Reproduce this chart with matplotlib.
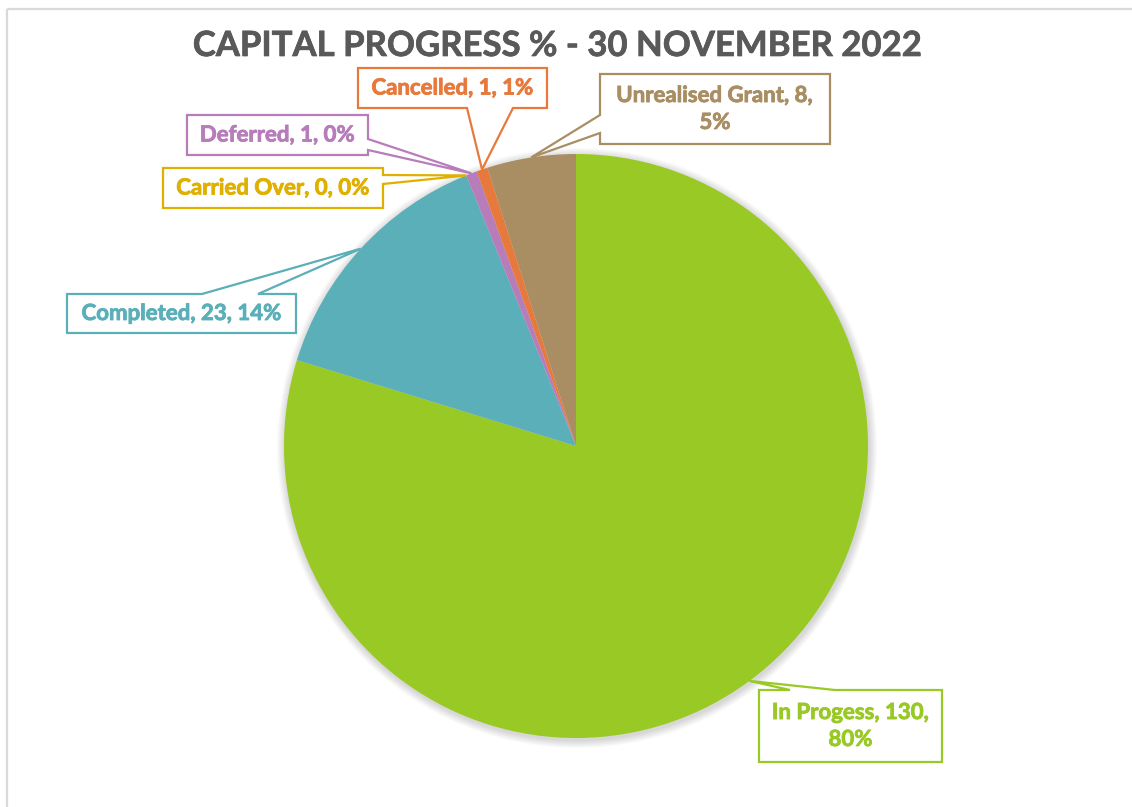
import matplotlib
matplotlib.use("Agg")
import matplotlib.pyplot as plt
import matplotlib.patheffects as pe
from matplotlib.patches import Polygon, Circle
import numpy as np

# ---- data ----
categories = ["In Progess", "Completed", "Carried Over", "Deferred", "Cancelled", "Unrealised Grant"]
values = [130, 23, 0, 1, 1, 8]
pct_labels = ["80%", "14%", "0%", "0%", "1%", "5%"]
colors = ["#99C925", "#5AAFB9", "#E0B000", "#B77DBA", "#E8793D", "#A98E64"]
title = "CAPITAL PROGRESS % - 30 NOVEMBER 2022"

# ---- layout (pixel coords, y down): box (l, t, r, b), pointer side, base (a, b), wrap ----
layout = {
    "In Progess":       dict(box=(759, 690, 942, 762), side="top",    base=(790, 835), wrap=True),
    "Completed":        dict(box=(67, 294, 296, 333),  side="top",    base=(202, 258), wrap=False),
    "Carried Over":     dict(box=(163, 168, 383, 208), side="right",  base=(175, 184), wrap=False),
    "Deferred":         dict(box=(187, 115, 368, 155), side="right",  base=(139, 150), wrap=False),
    "Cancelled":        dict(box=(358, 68, 547, 108),  side="bottom", base=(467, 513), wrap=False),
    "Unrealised Grant": dict(box=(600, 74, 830, 144),  side="left",   base=(115, 133), wrap=True),
}

W, H = 1132, 807
fig = plt.figure(figsize=(W / 100, H / 100), dpi=100)
ax = fig.add_axes([0, 0, 1, 1])

cx, cy, r = 576, H - 446, 292

# soft shadow
for k in range(1, 9):
    ax.add_patch(Circle((cx + 1, cy - 2), r + k, facecolor="#000000", alpha=0.018, lw=0, zorder=0))

wedges, _ = ax.pie(values, colors=colors, startangle=90, counterclock=False,
                   center=(cx, cy), radius=r, wedgeprops=dict(linewidth=0), frame=True)
for w in wedges:
    w.set_zorder(1)

ax.set_xlim(0, W)
ax.set_ylim(0, H)
ax.set_aspect("equal")
ax.axis("off")

font = ["Lato", "DejaVu Sans"]

def to_data(p):
    return (p[0], H - p[1])

for cat, val, pct, col, w in zip(categories, values, pct_labels, colors, wedges):
    lay = layout[cat]
    th = np.deg2rad((w.theta1 + w.theta2) / 2)
    tip_d = (cx + r * np.cos(th), cy + r * np.sin(th))
    tip = (tip_d[0], H - tip_d[1])
    l, t, rr, b = lay["box"]
    a1, a2 = lay["base"]
    side = lay["side"]
    if side == "top":
        pts = [(l, t), (a1, t), tip, (a2, t), (rr, t), (rr, b), (l, b)]
    elif side == "right":
        pts = [(l, t), (rr, t), (rr, a1), tip, (rr, a2), (rr, b), (l, b)]
    elif side == "bottom":
        pts = [(l, t), (rr, t), (rr, b), (a2, b), tip, (a1, b), (l, b)]
    else:
        pts = [(l, t), (rr, t), (rr, b), (l, b), (l, a2), tip, (l, a1)]
    poly = Polygon([to_data(p) for p in pts], closed=True, facecolor="white",
                   edgecolor=col, linewidth=1.6, zorder=5, joinstyle="miter")
    ax.add_patch(poly)
    if lay["wrap"]:
        txt = f"{cat}, {val},\n{pct}"
    else:
        txt = f"{cat}, {val}, {pct}"
    ax.text((l + rr) / 2, H - (t + b) / 2, txt, ha="center", va="center",
            color=col, fontsize=16, fontweight="bold", family=font,
            linespacing=1.35, zorder=6,
            path_effects=[pe.withStroke(linewidth=0.6, foreground=col)])

ax.text(558, H - 46, title, ha="center", va="center", color="#595959",
        fontsize=25, fontweight="bold", family=font, zorder=6,
        path_effects=[pe.withStroke(linewidth=0.5, foreground="#595959")])

# chart border
ax.plot([7, 7], [0, H - 9], color="#D9D9D9", lw=1.6, zorder=0, solid_capstyle="butt")
ax.plot([7, W], [H - 9, H - 9], color="#D9D9D9", lw=1.6, zorder=0, solid_capstyle="butt")

fig.savefig("out.png", dpi=100)
